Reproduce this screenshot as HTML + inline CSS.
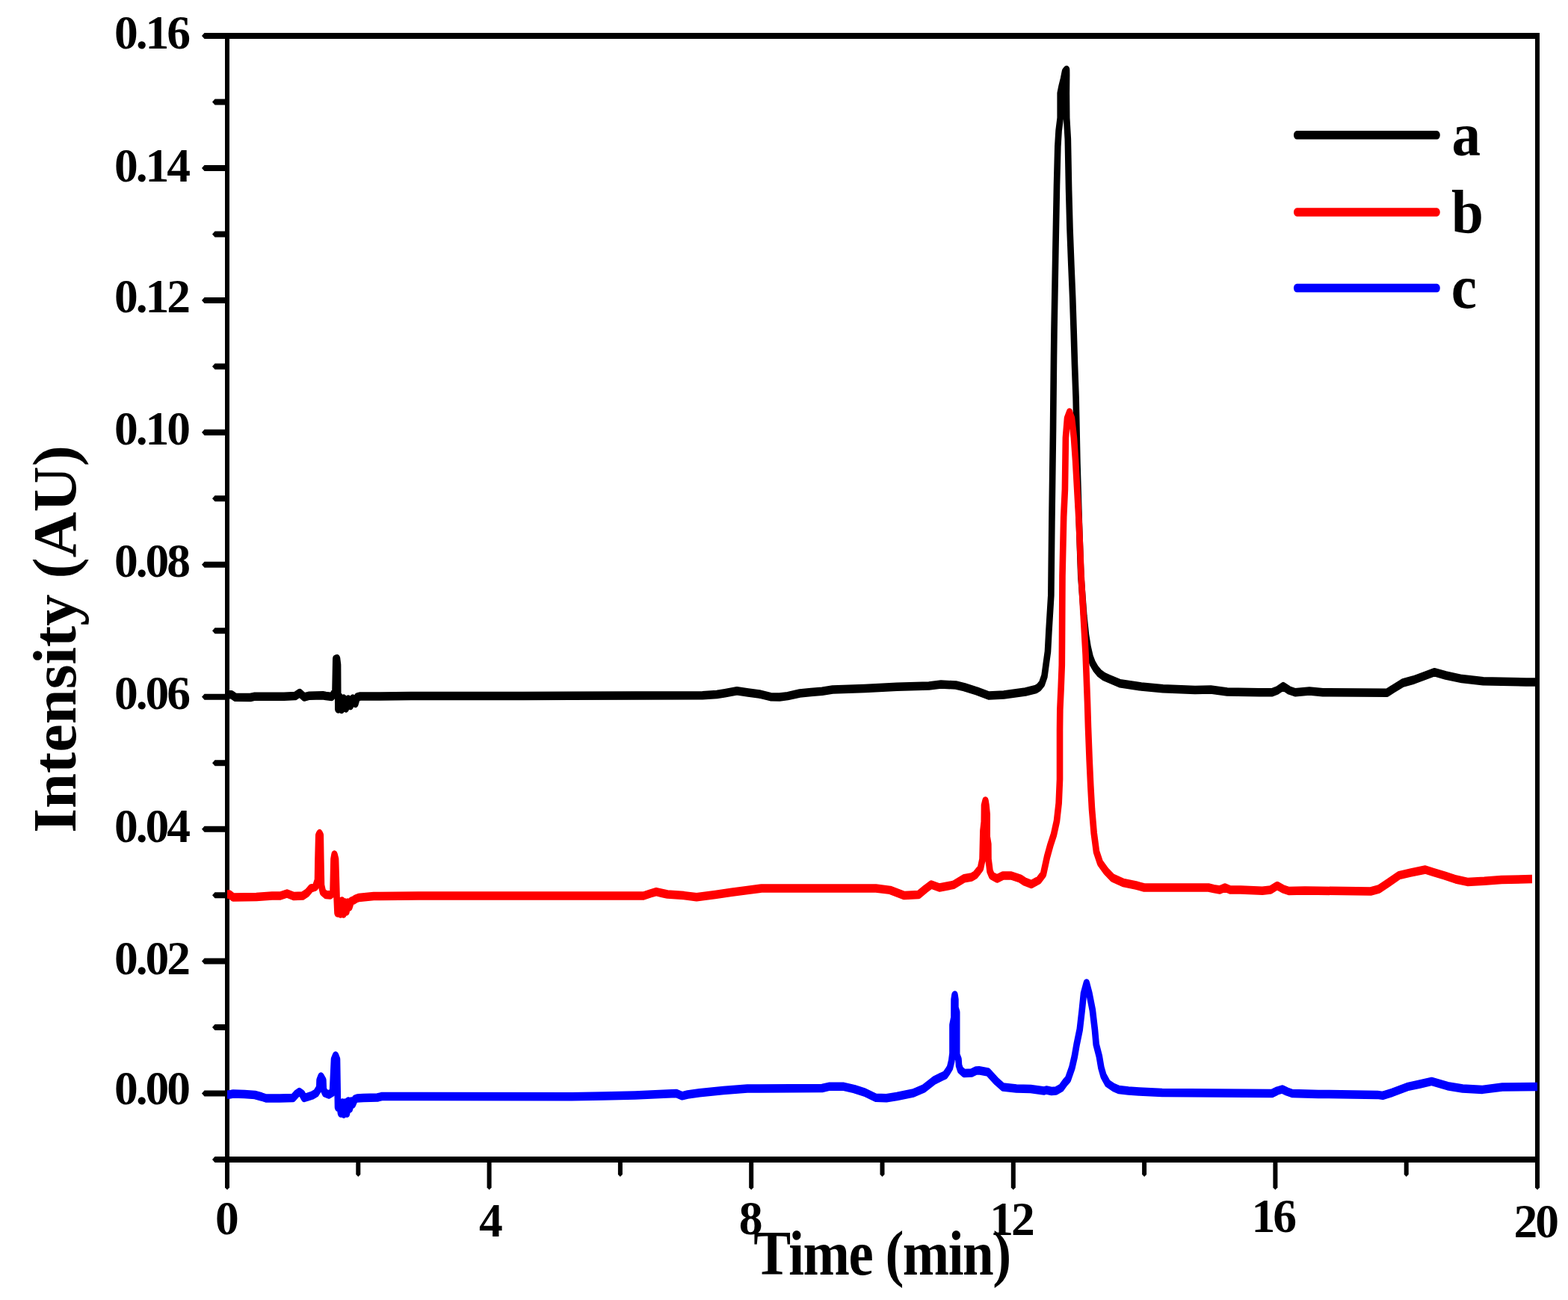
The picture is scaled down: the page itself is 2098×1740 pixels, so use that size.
<!DOCTYPE html>
<html><head><meta charset="utf-8"><title>Chromatogram</title>
<style>html,body{margin:0;padding:0;background:#fff;overflow:hidden}svg{display:block}</style>
</head><body>
<svg width="2098" height="1740" viewBox="0 0 2098 1740">
<rect width="2098" height="1740" fill="#fff"/>
<g fill="#000">
<rect x="301" y="44" width="1759" height="8"/>
<rect x="301" y="1548" width="1759" height="8"/>
<rect x="301" y="44" width="6" height="1512"/>
<rect x="2054" y="44" width="6" height="1512"/>
<path d="M287.5,1548.1H304V1556.1H287.5L284.0,1552.1Z"/>
<path d="M273.5,1459.6H304V1467.6H273.5L270.0,1463.6Z"/>
<path d="M287.5,1371.1H304V1379.1H287.5L284.0,1375.1Z"/>
<path d="M273.5,1282.6H304V1290.6H273.5L270.0,1286.6Z"/>
<path d="M287.5,1194.2H304V1202.2H287.5L284.0,1198.2Z"/>
<path d="M273.5,1105.7H304V1113.7H273.5L270.0,1109.7Z"/>
<path d="M287.5,1017.2H304V1025.2H287.5L284.0,1021.2Z"/>
<path d="M273.5,928.7H304V936.7H273.5L270.0,932.7Z"/>
<path d="M287.5,840.3H304V848.3H287.5L284.0,844.3Z"/>
<path d="M273.5,751.8H304V759.8H273.5L270.0,755.8Z"/>
<path d="M287.5,663.3H304V671.3H287.5L284.0,667.3Z"/>
<path d="M273.5,574.8H304V582.8H273.5L270.0,578.8Z"/>
<path d="M287.5,486.4H304V494.4H287.5L284.0,490.4Z"/>
<path d="M273.5,397.9H304V405.9H273.5L270.0,401.9Z"/>
<path d="M287.5,309.4H304V317.4H287.5L284.0,313.4Z"/>
<path d="M273.5,220.9H304V228.9H273.5L270.0,224.9Z"/>
<path d="M287.5,132.5H304V140.5H287.5L284.0,136.5Z"/>
<path d="M273.5,44.0H304V52.0H273.5L270.0,48.0Z"/>
<path d="M301.0,1552H307.0V1589.5L304.0,1592.5L301.0,1589.5Z"/>
<path d="M476.3,1552H482.3V1572.0L479.3,1575.0L476.3,1572.0Z"/>
<path d="M651.6,1552H657.6V1589.5L654.6,1592.5L651.6,1589.5Z"/>
<path d="M826.9,1552H832.9V1572.0L829.9,1575.0L826.9,1572.0Z"/>
<path d="M1002.2,1552H1008.2V1589.5L1005.2,1592.5L1002.2,1589.5Z"/>
<path d="M1177.5,1552H1183.5V1572.0L1180.5,1575.0L1177.5,1572.0Z"/>
<path d="M1352.8,1552H1358.8V1589.5L1355.8,1592.5L1352.8,1589.5Z"/>
<path d="M1528.1,1552H1534.1V1572.0L1531.1,1575.0L1528.1,1572.0Z"/>
<path d="M1703.4,1552H1709.4V1589.5L1706.4,1592.5L1703.4,1589.5Z"/>
<path d="M1878.7,1552H1884.7V1572.0L1881.7,1575.0L1878.7,1572.0Z"/>
<path d="M2054.0,1552H2060.0V1589.5L2057.0,1592.5L2054.0,1589.5Z"/>
</g>
<g transform="scale(0.75,1)">
<path d="M405.3,929.8 L413.3,929.8 L420.0,933.3 L446.7,933.5 L453.3,932.3 L506.7,932.2 L526.7,931.5 L534.7,927.5 L542.7,933.0 L552.0,931.2 L576.0,930.8 L581.3,931.5 L592.0,932.5 L598.0,925.0 L599.1,882.0 L601.3,881.5 L602.7,890.0 L603.1,949.0 L606.0,933.0 L609.3,949.5 L613.3,935.0 L617.3,948.0 L621.3,936.0 L625.3,944.5 L629.3,935.0 L634.0,941.5 L637.3,933.0 L642.7,932.0 L666.7,932.0 L733.3,931.5 L933.3,931.5 L1253.3,930.8 L1278.7,929.5 L1293.3,927.7 L1314.7,924.7 L1334.7,927.0 L1354.7,929.0 L1374.7,932.7 L1390.7,933.0 L1405.3,931.6 L1426.7,928.0 L1446.7,926.4 L1466.7,925.3 L1485.3,923.0 L1542.7,921.5 L1600.0,919.3 L1657.3,918.0 L1678.7,916.0 L1705.3,917.0 L1720.0,919.6 L1742.7,925.0 L1764.0,931.0 L1790.7,930.0 L1829.3,926.0 L1848.0,922.5 L1853.3,920.0 L1858.7,915.0 L1863.3,905.0 L1866.0,890.0 L1869.3,872.0 L1871.2,845.0 L1875.1,797.0 L1876.5,699.0 L1878.7,575.0 L1880.0,480.0 L1880.7,440.0 L1883.3,329.0 L1885.3,249.0 L1887.1,196.0 L1888.8,175.0 L1891.6,158.0 L1891.6,125.0 L1894.0,116.0 L1897.3,106.0 L1900.0,96.0 L1902.7,93.5 L1902.8,100.0 L1902.5,125.0 L1902.9,158.0 L1905.1,186.0 L1906.8,254.0 L1908.7,307.0 L1911.1,354.0 L1913.6,399.0 L1915.6,445.0 L1917.3,488.0 L1919.5,533.0 L1921.9,620.0 L1925.1,699.0 L1928.4,771.0 L1933.7,824.0 L1937.3,850.0 L1940.7,866.0 L1944.7,879.0 L1949.3,888.0 L1954.7,895.0 L1961.3,901.0 L1969.3,905.5 L1978.7,908.6 L1998.1,914.7 L2036.0,919.0 L2074.7,921.8 L2132.0,923.6 L2160.0,923.0 L2189.3,926.0 L2246.7,926.8 L2269.3,926.8 L2278.7,924.0 L2289.3,918.6 L2300.0,924.0 L2310.7,926.8 L2336.0,925.0 L2360.0,926.8 L2474.7,927.2 L2484.0,922.6 L2502.7,914.0 L2522.0,910.0 L2540.0,905.0 L2558.7,899.7 L2579.3,904.0 L2608.0,908.6 L2646.0,911.8 L2722.7,912.9 L2740.0,913.0" fill="none" stroke="#000" stroke-width="11.5" stroke-linejoin="round" stroke-linecap="butt"/>
<path d="M405.3,1197.0 L409.3,1197.0 L416.0,1201.0 L457.3,1200.5 L485.3,1199.0 L500.0,1199.0 L512.0,1196.0 L524.0,1199.5 L540.0,1199.0 L548.0,1195.0 L554.7,1189.0 L562.7,1187.0 L566.7,1178.0 L567.3,1150.0 L568.4,1118.0 L570.0,1115.5 L571.7,1118.0 L572.4,1150.0 L573.3,1185.0 L576.0,1194.0 L581.3,1197.5 L589.3,1198.0 L594.0,1195.0 L595.3,1150.0 L596.7,1144.0 L598.7,1150.0 L600.7,1200.0 L602.0,1222.0 L604.7,1208.0 L607.3,1223.0 L610.0,1206.0 L612.7,1223.0 L615.3,1208.0 L618.0,1220.0 L620.7,1208.0 L623.3,1214.0 L626.7,1206.0 L630.7,1205.0 L634.7,1203.0 L640.0,1201.5 L666.7,1199.5 L746.7,1199.0 L933.3,1199.0 L1148.0,1199.0 L1160.0,1196.0 L1170.7,1193.6 L1181.3,1195.5 L1190.7,1197.0 L1220.0,1198.6 L1242.7,1200.8 L1276.0,1197.5 L1305.3,1194.3 L1333.3,1191.5 L1358.7,1189.0 L1562.7,1189.0 L1588.0,1191.4 L1613.3,1198.6 L1638.7,1197.5 L1650.7,1190.0 L1661.3,1184.0 L1676.0,1188.0 L1701.3,1184.3 L1720.0,1175.7 L1733.3,1174.0 L1740.0,1171.0 L1745.3,1166.0 L1749.3,1162.0 L1752.7,1150.0 L1753.9,1112.0 L1755.7,1100.0 L1756.0,1078.0 L1758.0,1072.0 L1759.3,1078.0 L1760.9,1090.0 L1760.9,1120.0 L1763.1,1130.0 L1763.3,1150.0 L1764.7,1158.0 L1766.0,1166.0 L1769.3,1172.0 L1778.7,1176.0 L1789.3,1172.0 L1804.0,1172.0 L1820.0,1176.0 L1828.0,1180.0 L1840.0,1183.5 L1853.3,1178.0 L1861.3,1170.0 L1868.0,1147.0 L1873.9,1131.0 L1880.0,1117.0 L1885.3,1099.0 L1888.9,1075.0 L1890.7,1043.0 L1890.7,978.0 L1891.1,950.0 L1892.9,920.0 L1894.4,890.0 L1894.7,855.0 L1895.3,771.0 L1897.6,692.0 L1899.9,655.0 L1901.2,586.0 L1904.0,560.0 L1908.0,552.0 L1912.0,560.0 L1915.9,586.0 L1918.8,617.0 L1924.9,699.0 L1928.9,771.0 L1932.9,824.0 L1936.8,876.0 L1940.0,940.0 L1941.3,973.0 L1943.6,1018.0 L1945.7,1052.0 L1948.0,1083.0 L1951.6,1115.0 L1956.0,1140.0 L1962.7,1155.0 L1973.3,1166.0 L1984.8,1175.0 L2004.0,1181.5 L2026.7,1185.0 L2041.3,1188.0 L2156.0,1188.0 L2165.3,1189.6 L2176.0,1191.0 L2185.3,1188.0 L2194.7,1191.0 L2213.3,1191.0 L2252.0,1192.2 L2266.7,1191.0 L2278.7,1185.4 L2289.3,1190.0 L2299.3,1192.5 L2328.0,1192.0 L2445.3,1193.0 L2460.0,1190.0 L2476.0,1182.0 L2496.0,1171.7 L2516.0,1168.2 L2542.7,1164.0 L2557.3,1167.5 L2577.3,1172.0 L2597.3,1177.0 L2618.0,1180.4 L2648.0,1179.3 L2678.7,1177.4 L2733.3,1176.6" fill="none" stroke="#f00" stroke-width="11.5" stroke-linejoin="round" stroke-linecap="butt"/>
<path d="M405.3,1465.0 L409.3,1465.0 L416.0,1464.0 L436.0,1464.5 L454.7,1465.5 L466.7,1468.0 L474.7,1470.0 L498.7,1470.0 L522.7,1469.5 L529.3,1464.0 L534.0,1461.5 L538.7,1464.0 L542.7,1469.5 L549.3,1468.0 L557.3,1466.0 L564.0,1463.0 L569.7,1456.0 L570.1,1446.0 L572.7,1441.0 L576.5,1446.0 L577.1,1458.0 L580.0,1463.0 L586.7,1465.0 L593.3,1462.0 L596.0,1418.0 L598.7,1413.0 L601.3,1418.0 L602.7,1482.0 L605.3,1476.0 L608.0,1490.0 L610.7,1476.0 L613.3,1491.0 L616.0,1476.0 L618.7,1490.0 L621.3,1474.0 L624.0,1484.0 L626.7,1474.0 L629.3,1478.0 L633.3,1471.0 L637.3,1470.0 L648.0,1469.5 L673.3,1469.0 L681.3,1467.5 L746.7,1467.5 L1020.0,1467.8 L1076.0,1467.0 L1133.3,1466.0 L1190.7,1464.0 L1206.7,1463.5 L1216.7,1466.8 L1226.7,1465.0 L1248.0,1462.7 L1290.7,1459.5 L1333.3,1457.0 L1466.7,1456.5 L1478.7,1454.3 L1505.3,1454.3 L1524.0,1457.6 L1542.7,1462.2 L1562.7,1469.3 L1581.3,1469.7 L1600.0,1467.5 L1629.3,1463.0 L1648.0,1457.0 L1666.7,1446.0 L1678.7,1441.5 L1686.0,1439.0 L1690.7,1434.0 L1694.7,1429.0 L1697.6,1420.0 L1699.3,1410.0 L1699.3,1372.0 L1701.9,1362.0 L1702.1,1338.0 L1703.3,1332.0 L1704.5,1338.0 L1704.5,1349.0 L1706.9,1355.0 L1706.9,1412.0 L1710.0,1418.0 L1710.7,1426.0 L1713.3,1432.0 L1720.0,1436.5 L1733.3,1436.0 L1741.3,1433.0 L1746.7,1432.7 L1762.7,1435.0 L1777.3,1447.0 L1789.3,1455.0 L1813.3,1457.0 L1838.7,1457.5 L1862.7,1460.0 L1866.7,1459.0 L1876.0,1460.5 L1884.0,1460.0 L1893.3,1456.0 L1900.0,1449.0 L1905.3,1444.5 L1912.5,1429.0 L1917.1,1414.0 L1920.8,1398.0 L1926.3,1378.0 L1930.3,1352.0 L1933.3,1330.0 L1938.4,1316.0 L1943.3,1330.0 L1949.1,1352.0 L1953.2,1378.0 L1955.6,1398.0 L1961.1,1414.0 L1964.5,1429.0 L1968.7,1440.0 L1976.0,1450.0 L1986.7,1455.5 L1996.0,1458.5 L2013.3,1460.0 L2032.0,1461.0 L2073.3,1462.5 L2269.3,1463.5 L2278.7,1460.0 L2287.5,1458.0 L2296.0,1461.0 L2305.3,1463.5 L2352.0,1464.4 L2457.3,1465.4 L2466.7,1466.4 L2484.0,1462.3 L2510.7,1454.7 L2533.3,1451.0 L2554.0,1447.4 L2582.7,1453.7 L2609.3,1457.0 L2644.7,1458.4 L2680.0,1455.0 L2742.7,1454.4" fill="none" stroke="#00f" stroke-width="11.5" stroke-linejoin="round" stroke-linecap="butt"/>
</g>
<text x="153.08" y="1478.3" font-size="63.5" letter-spacing="-3.1" font-family="'Liberation Serif', serif" font-weight="bold">0.00</text>
<text x="153.08" y="1303.5" font-size="63.5" letter-spacing="-3.1" font-family="'Liberation Serif', serif" font-weight="bold">0.02</text>
<text x="153.08" y="1126.8" font-size="63.5" letter-spacing="-3.1" font-family="'Liberation Serif', serif" font-weight="bold">0.04</text>
<text x="153.08" y="949.0" font-size="63.5" letter-spacing="-3.1" font-family="'Liberation Serif', serif" font-weight="bold">0.06</text>
<text x="153.08" y="771.6" font-size="63.5" letter-spacing="-3.1" font-family="'Liberation Serif', serif" font-weight="bold">0.08</text>
<text x="153.08" y="595.0" font-size="63.5" letter-spacing="-3.1" font-family="'Liberation Serif', serif" font-weight="bold">0.10</text>
<text x="153.08" y="417.5" font-size="63.5" letter-spacing="-3.1" font-family="'Liberation Serif', serif" font-weight="bold">0.12</text>
<text x="153.08" y="242.6" font-size="63.5" letter-spacing="-3.1" font-family="'Liberation Serif', serif" font-weight="bold">0.14</text>
<text x="153.08" y="64.7" font-size="63.5" letter-spacing="-3.1" font-family="'Liberation Serif', serif" font-weight="bold">0.16</text>
<text x="288.02" y="1652.2" font-size="63.5" letter-spacing="-3.1" font-family="'Liberation Serif', serif" font-weight="bold">0</text>
<text x="640.88" y="1654.7" font-size="63.5" letter-spacing="-3.1" font-family="'Liberation Serif', serif" font-weight="bold">4</text>
<text x="988.83" y="1652.2" font-size="63.5" letter-spacing="-3.1" font-family="'Liberation Serif', serif" font-weight="bold">8</text>
<text x="1324.32" y="1652.9" font-size="63.5" letter-spacing="-3.1" font-family="'Liberation Serif', serif" font-weight="bold">12</text>
<text x="1674.59" y="1649.3" font-size="63.5" letter-spacing="-3.1" font-family="'Liberation Serif', serif" font-weight="bold">16</text>
<text x="2025.58" y="1656.0" font-size="63.5" letter-spacing="-3.1" font-family="'Liberation Serif', serif" font-weight="bold">20</text>
<text transform="translate(1008.23,1705.6) scale(0.893,1)" font-size="83.8" letter-spacing="-1.657" font-family="'Liberation Serif', serif" font-weight="bold">Time (min)</text>
<text transform="translate(101.2,1114.85) rotate(-90) scale(1.018,1)" font-size="83.0" font-family="'Liberation Serif', serif" font-weight="bold">Intensity (AU)</text>
<g transform="scale(0.75,1)"><line x1="2313.7" y1="180.85" x2="2563.3" y2="180.85" stroke="#000" stroke-width="11.5" stroke-linecap="round"/></g>
<g transform="scale(0.75,1)"><line x1="2313.7" y1="284.0" x2="2563.3" y2="284.0" stroke="#f00" stroke-width="11.5" stroke-linecap="round"/></g>
<g transform="scale(0.75,1)"><line x1="2313.7" y1="385.6" x2="2563.3" y2="385.6" stroke="#00f" stroke-width="11.5" stroke-linecap="round"/></g>
<text transform="translate(1942.52,207.6) scale(0.94,1)" font-size="82" font-family="'Liberation Serif', serif" font-weight="bold">a</text>
<text transform="translate(1941.92,310.6) scale(0.94,1)" font-size="82" font-family="'Liberation Serif', serif" font-weight="bold">b</text>
<text transform="translate(1941.87,412.0) scale(0.94,1)" font-size="82" font-family="'Liberation Serif', serif" font-weight="bold">c</text>
</svg>
</body></html>
